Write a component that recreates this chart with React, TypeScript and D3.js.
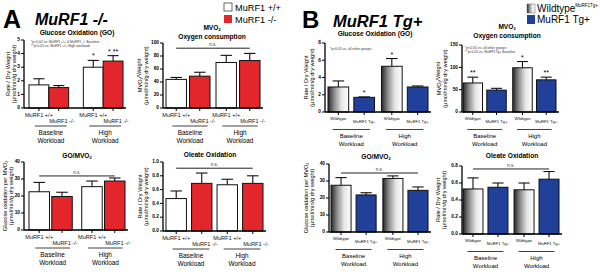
import React from "react";
import * as d3 from "d3";

const FONT = "'Liberation Sans', Arial, Helvetica, sans-serif";

// ---------- data ----------
const groups = ["Baseline", "High"];
const groupSub = "Workload";
const catsA = ["MuRF1 +/+", "MuRF1 -/-"];
const catsB = ["Wildtype", "MuRF1 Tg+"];

const goA = [1.7, 1.5, 3.0, 3.45];
const goAErr = [0.45, 0.15, 0.5, 0.4];
const mvoA = [44, 49, 70, 73];
const mvoAErr = [3, 6, 11, 11];
const ratioA = [22.5, 19.7, 25.5, 28.8];
const ratioAErr = [5.5, 2.5, 3.3, 1.8];
const oleateA = [0.47, 0.69, 0.67, 0.69];
const oleateAErr = [0.11, 0.15, 0.08, 0.11];

const goB = [2.9, 1.7, 5.3, 2.9];
const goBErr = [0.7, 0.05, 0.9, 0.12];
const mvoB = [65, 49, 99, 72];
const mvoBErr = [13, 4, 14, 6];
const ratioB = [27.5, 21.8, 31.5, 24.5];
const ratioBErr = [4.5, 1.3, 1.5, 2];
const oleateB = [0.53, 0.55, 0.52, 0.645];
const oleateBErr = [0.13, 0.05, 0.08, 0.09];

const ticksGOA = [0, 1, 2, 3, 4, 5];
const ticksMvoA = [0, 20, 40, 60, 80, 100];
const ticksRatio = [0, 10, 20, 30, 40];
const ticksOleateA = [0, 0.2, 0.4, 0.6, 0.8, 1.0];
const ticksGOB = [0, 2, 4, 6, 8];
const ticksMvoB = [0, 50, 100, 150];
const ticksOleateB = [0, 0.2, 0.4, 0.6, 0.8];

const starsGOA = ["", "", "*", "* **"];
const starsGOB = ["", "*", "*", ""];
const starsMvoB = ["**", "", "*", "**"];

const notesGOA = ["*p<0.02 vs. MuRF1 +/+ & MuRF1 -/- Baseline", "**p<0.05 vs. MuRF1 +/+ High workload"];
const notesGOB = ["*p<0.05 vs. all other groups"];
const notesMvoB = ["*p<0.05 vs. all other groups", "**p<0.05 vs. MuRF1Tg+ Baseline"];

const legendA = ["MuRF1 +/+", "MuRF1 -/-"];
const legendB = ["Wildtype", "MuRF1 Tg+"];
const legendBSup = "MuRF1Tg+";

const RED = "#e3262b";
const BLUE = "#21409a";

const unitLabel = "(µmol/min/g dry weight)";

type PanelProps = {
  kind: "A" | "B";
  cats: string[];
  values: number[];
  errs: number[];
  ticks: number[];
  fmt: (v: number) => string;
  yMax: number;
  axisX: number;
  axisY: number;
  topY: number;
  barL: number;
  barR: number;
  gPad: number;
  iPad: number;
  title: React.ReactNode[];
  titleX: number;
  titleY: number;
  titleSize?: number;
  yLab: React.ReactNode[];
  yLabX: number[];
  stars?: string[];
  nsVal?: number;
  notes?: string[];
  notesX?: number;
  notesY?: number;
};

function Mvo2() {
  return (
    <>
      MVO<tspan fontSize="0.6em" dy="0.35em">2</tspan>
    </>
  );
}

function Mvo2Title() {
  return (
    <>
      GO/MVO<tspan fontSize="0.6em" dy="0.35em">2</tspan>
    </>
  );
}

function Panel(p: PanelProps) {
  const y = d3.scaleLinear().domain([0, p.yMax]).range([p.axisY, p.topY]);
  const gx = d3.scaleBand<string>().domain(groups).range([p.barL, p.barR]).paddingInner(p.gPad);
  const ix = d3.scaleBand<string>().domain(p.cats).range([0, gx.bandwidth()]).paddingInner(p.iPad);
  const bw = ix.bandwidth();
  const bars = p.values.map((v, i) => {
    const g = groups[Math.floor(i / 2)];
    const c = p.cats[i % 2];
    const x = (gx(g) as number) + (ix(c) as number);
    return { v, e: p.errs[i], x, cx: x + bw / 2, ci: i % 2, g };
  });
  const fills = p.kind === "A" ? ["#ffffff", RED] : ["url(#gradB)", BLUE];
  const isA = p.kind === "A";
  const catSize = isA ? 5.6 : 4.2;
  const grpSize = isA ? 6.4 : 6;
  const off = isA ? [7.5, 14, 18, 25, 33] : [7, 10, 17.5, 24, 32];
  const yMid = (p.axisY + p.topY) / 2;
  return (
    <g>
      <text
        x={p.titleX}
        y={p.titleY}
        textAnchor="middle"
        fontWeight="bold"
        fontSize={p.titleSize ?? 6.6}
        fontFamily={FONT}
      >
        {p.title.map((t, i) => (
          <tspan key={i} x={p.titleX} dy={i === 0 ? 0 : 7.5}>
            {t}
          </tspan>
        ))}
      </text>
      {p.yLab.map((t, i) => (
        <text
          key={i}
          transform={`translate(${p.yLabX[i]},${yMid}) rotate(-90)`}
          textAnchor="middle"
          fontSize={5.6}
          fontFamily={FONT}
          dominantBaseline="middle"
        >
          {t}
        </text>
      ))}
      {bars.map((b, i) => (
        <rect
          key={i}
          x={b.x}
          y={y(b.v)}
          width={bw}
          height={p.axisY - y(b.v)}
          fill={fills[b.ci]}
          stroke="#111"
          strokeWidth={1}
        />
      ))}
      {bars.map((b, i) => (
        <g key={i} stroke="#111" strokeWidth={1.1}>
          <line x1={b.cx} x2={b.cx} y1={y(b.v)} y2={y(b.v + b.e)} />
          <line x1={b.cx - bw * 0.28} x2={b.cx + bw * 0.28} y1={y(b.v + b.e)} y2={y(b.v + b.e)} />
        </g>
      ))}
      {p.stars &&
        bars.map((b, i) =>
          p.stars![i] ? (
            <text
              key={i}
              x={b.cx}
              y={y(b.v + b.e) - 2}
              textAnchor="middle"
              fontSize={7}
              fontFamily={FONT}
            >
              {p.stars![i]}
            </text>
          ) : null
        )}
      {p.nsVal !== undefined && (
        <g>
          <line
            x1={bars[0].cx}
            x2={bars[3].cx}
            y1={y(p.nsVal)}
            y2={y(p.nsVal)}
            stroke="#222"
            strokeWidth={1}
          />
          <text
            x={(bars[0].cx + bars[3].cx) / 2}
            y={y(p.nsVal) - 2}
            textAnchor="middle"
            fontSize={4.5}
            fontFamily={FONT}
            fill="#333"
          >
            n.s.
          </text>
        </g>
      )}
      {p.notes &&
        p.notes.map((t, i) => (
          <text
            key={i}
            x={p.notesX}
            y={(p.notesY as number) + i * 3.6}
            fontSize={3.4}
            fontFamily={FONT}
            fill="#333"
          >
            {t}
          </text>
        ))}
      <line x1={p.axisX} x2={p.axisX} y1={p.axisY} y2={p.topY} stroke="#000" strokeWidth={1.3} />
      <line x1={p.axisX} x2={p.barR + 3} y1={p.axisY} y2={p.axisY} stroke="#000" strokeWidth={1.3} />
      {p.ticks.map((t, i) => (
        <g key={i}>
          <line x1={p.axisX - 3} x2={p.axisX} y1={y(t)} y2={y(t)} stroke="#000" strokeWidth={1} />
          <text
            x={p.axisX - 4}
            y={y(t)}
            textAnchor="end"
            dominantBaseline="middle"
            fontSize={4.8}
            fontWeight="bold"
            fontFamily={FONT}
          >
            {p.fmt(t)}
          </text>
        </g>
      ))}
      {bars.map((b, i) => (
        <line key={i} x1={b.cx} x2={b.cx} y1={p.axisY} y2={p.axisY + 3} stroke="#000" strokeWidth={1} />
      ))}
      {bars.map((b, i) => (
        <text
          key={i}
          x={b.cx + (b.ci === 1 && isA ? 3 : 0)}
          y={p.axisY + off[b.ci]}
          textAnchor="middle"
          dominantBaseline="middle"
          fontSize={catSize}
          fontFamily={FONT}
          fill="#111"
        >
          {p.cats[b.ci]}
        </text>
      ))}
      {groups.map((g, i) => {
        const gc = (gx(g) as number) + gx.bandwidth() / 2 + (isA ? 2 : 0);
        const half = gx.bandwidth() * 0.4;
        return (
          <g key={i}>
            <line x1={gc - half} x2={gc + half} y1={p.axisY + off[2]} y2={p.axisY + off[2]} stroke="#111" strokeWidth={0.8} />
            <text x={gc} y={p.axisY + off[3]} textAnchor="middle" dominantBaseline="middle" fontSize={grpSize} fontFamily={FONT}>
              {g}
            </text>
            <text x={gc} y={p.axisY + off[4]} textAnchor="middle" dominantBaseline="middle" fontSize={grpSize} fontFamily={FONT}>
              {groupSub}
            </text>
          </g>
        );
      })}
    </g>
  );
}

const f0 = (v: number) => d3.format("d")(v);
const f1 = (v: number) => d3.format(".1f")(v);

const mvoWeight = (
  <>
    <tspan>MVO</tspan>
    <tspan fontSize="0.6em" dy="0.35em">2</tspan>
    <tspan dy="-0.35em">/Weight</tspan>
  </>
);
const goPerMvo = (
  <>
    <tspan>Glucose oxidation per MVO</tspan>
    <tspan fontSize="0.6em" dy="0.35em">2</tspan>
  </>
);

export default function App() {
  return (
    <svg
      width={600}
      height={272}
      viewBox="0 0 600 272"
      style={{ position: "absolute", left: 0, top: 0, background: "#fff" }}
      fontFamily={FONT}
    >
      <defs>
        <linearGradient id="gradB" x1="0" x2="1" y1="0" y2="0">
          <stop offset="0" stopColor="#262626" />
          <stop offset="0.3" stopColor="#8c8c8c" />
          <stop offset="0.65" stopColor="#e6e6e6" />
          <stop offset="1" stopColor="#ffffff" />
        </linearGradient>
      </defs>
      <rect x={0} y={0} width={600} height={272} fill="#fff" />

      <text x={3} y={28} fontSize={25} fontWeight="bold" fontFamily={FONT}>A</text>
      <text x={35} y={25} fontSize={16} fontWeight="bold" fontStyle="italic" fontFamily={FONT}>MuRF1 -/-</text>
      <text x={302} y={28} fontSize={24} fontWeight="bold" fontFamily={FONT}>B</text>
      <text x={333} y={27} fontSize={16.5} fontWeight="bold" fontStyle="italic" fontFamily={FONT}>MuRF1 Tg+</text>

      <rect x={224} y={3} width={8} height={8} fill="#fff" stroke="#444" strokeWidth={0.8} />
      <text x={235} y={10.5} fontSize={9.2} fontFamily={FONT}>{legendA[0]}</text>
      <rect x={224} y={15} width={8} height={8} fill={RED} />
      <text x={235} y={22.5} fontSize={9.2} fontFamily={FONT}>{legendA[1]}</text>

      <rect x={527} y={4} width={8} height={9} fill="url(#gradB)" stroke="#666" strokeWidth={0.5} />
      <text x={537} y={12} fontSize={10} fontFamily={FONT}>
        {legendB[0]}
        <tspan fontSize={4.5} dy={-5}>{legendBSup}</tspan>
      </text>
      <rect x={527} y={15} width={8} height={9} fill={BLUE} />
      <text x={537} y={23} fontSize={10} fontFamily={FONT}>{legendB[1]}</text>

      <Panel kind="A" cats={catsA} values={goA} errs={goAErr} ticks={ticksGOA} fmt={f0} yMax={5}
        axisX={24} axisY={108} topY={40} barL={29} barR={123} gPad={0.27} iPad={0}
        title={["Glucose Oxidation (GO)"]} titleX={77} titleY={35}
        yLab={["Rate / Dry Weight", unitLabel]} yLabX={[9, 15]}
        stars={starsGOA} notes={notesGOA} notesX={31} notesY={43} />
      <Panel kind="A" cats={catsA} values={mvoA} errs={mvoAErr} ticks={ticksMvoA} fmt={f0} yMax={100}
        axisX={163} axisY={108} topY={43} barL={166} barR={260} gPad={0.12} iPad={0.13}
        title={[<Mvo2 key="m" />, "Oxygen consumption"]} titleX={212} titleY={30}
        yLab={[mvoWeight, unitLabel]} yLabX={[141, 147]}
        nsVal={92} />
      <Panel kind="A" cats={catsA} values={ratioA} errs={ratioAErr} ticks={ticksRatio} fmt={f0} yMax={40}
        axisX={24} axisY={230} topY={162} barL={29} barR={125} gPad={0.18} iPad={0.1}
        title={[<Mvo2Title key="t" />]} titleX={77} titleY={158}
        yLab={[goPerMvo, unitLabel]} yLabX={[6, 12]}
        nsVal={31.8} />
      <Panel kind="A" cats={catsA} values={oleateA} errs={oleateAErr} ticks={ticksOleateA} fmt={f1} yMax={1}
        axisX={163} axisY={231} topY={162} barL={166} barR={263} gPad={0.1} iPad={0.2}
        title={["Oleate Oxidation"]} titleX={210} titleY={157}
        yLab={["Rate / Dry Weight", unitLabel]} yLabX={[141, 147]}
        nsVal={0.91} />

      <Panel kind="B" cats={catsB} values={goB} errs={goBErr} ticks={ticksGOB} fmt={f0} yMax={8}
        axisX={325} axisY={112} topY={43} barL={328} barR={428} gPad={0.13} iPad={0.2}
        title={["Glucose Oxidation (GO)"]} titleX={375} titleY={36}
        yLab={["Rate / Dry Weight", unitLabel]} yLabX={[307, 313]}
        stars={starsGOB} notes={notesGOB} notesX={330} notesY={50} />
      <Panel kind="B" cats={catsB} values={mvoB} errs={mvoBErr} ticks={ticksMvoB} fmt={f0} yMax={150}
        axisX={462} axisY={112} topY={45} barL={463} barR={556} gPad={0.13} iPad={0.18}
        title={[<Mvo2 key="m" />, "Oxygen consumption"]} titleX={507} titleY={29}
        yLab={[mvoWeight, unitLabel]} yLabX={[440, 446]}
        stars={starsMvoB} notes={notesMvoB} notesX={465} notesY={49} />
      <Panel kind="B" cats={catsB} values={ratioB} errs={ratioBErr} ticks={ticksRatio} fmt={f0} yMax={40}
        axisX={329} axisY={232} topY={164} barL={331} barR={428} gPad={0.13} iPad={0.2}
        title={[<Mvo2Title key="t" />]} titleX={376} titleY={159}
        yLab={[goPerMvo, unitLabel]} yLabX={[307, 313]}
        nsVal={34.7} />
      <Panel kind="B" cats={catsB} values={oleateB} errs={oleateBErr} ticks={ticksOleateB} fmt={f1} yMax={0.8}
        axisX={462} axisY={234} topY={166} barL={463} barR={559} gPad={0.12} iPad={0.2}
        title={["Oleate Oxidation"]} titleX={512} titleY={158}
        yLab={["Rate / Dry Weight", unitLabel]} yLabX={[439, 445]}
        nsVal={0.765} />
    </svg>
  );
}
